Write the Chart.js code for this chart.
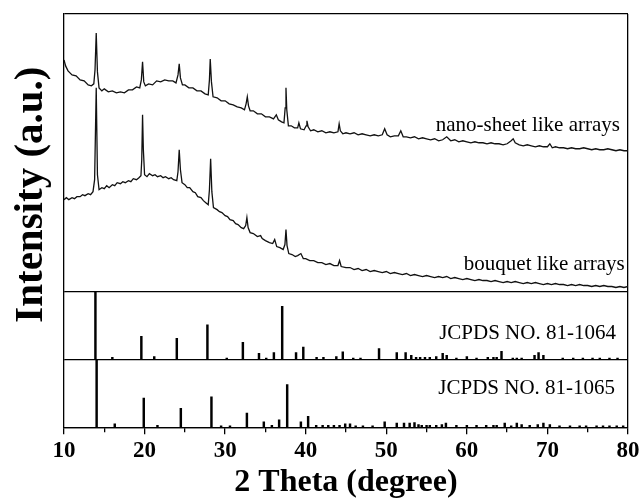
<!DOCTYPE html>
<html>
<head>
<meta charset="utf-8">
<script src="https://cdn.jsdelivr.net/npm/chart.js@4"></script>
<style>
  html, body { margin: 0; padding: 0; background: #fff; }
  #wrap { width: 642px; height: 500px; }
</style>
</head>
<body>
<div id="wrap"><canvas id="c" width="642" height="500"></canvas></div>
<script>
// ---- Data ----
// nano-sheet like arrays (intensity, a.u.)
const nanoTheta = [10.0,10.2,10.5,11.0,11.5,12.0,12.5,13.0,13.4,13.7,13.85,14.0,14.15,14.35,14.7,15.0,15.5,16.0,16.5,17.0,17.5,18.0,18.5,19.0,19.4,19.6,19.75,19.9,20.1,20.5,21.0,21.5,22.0,22.5,23.0,23.5,23.9,24.15,24.3,24.45,24.7,25.0,25.5,26.0,26.5,27.0,27.5,27.9,28.05,28.15,28.3,28.5,29.0,29.5,30.0,30.5,31.0,31.5,32.0,32.4,32.6,32.75,32.9,33.1,33.5,34.0,34.5,35.0,35.5,36.0,36.35,36.6,37.0,37.3,37.45,37.55,37.65,37.85,38.2,38.6,39.0,39.15,39.35,39.8,40.05,40.15,40.3,40.6,41.0,41.5,42.0,42.5,43.0,43.5,44.0,44.15,44.3,44.6,45.0,45.5,46.0,46.5,47.0,47.5,48.0,48.5,49.0,49.5,49.8,50.1,50.5,51.0,51.5,51.8,52.1,52.5,53.0,53.5,54.0,54.5,55.0,55.5,56.0,56.5,57.0,57.5,58.0,58.5,59.0,59.5,60.0,60.5,61.0,61.5,62.0,62.5,63.0,63.5,64.0,64.5,65.0,65.5,65.75,66.0,66.5,67.0,67.5,68.0,68.5,69.0,69.5,70.0,70.3,70.6,71.0,71.5,72.0,72.5,73.0,73.5,74.0,74.5,75.0,75.5,76.0,76.5,77.0,77.5,78.0,78.5,79.0,79.5,80.0];
const nanoInt = [232,226,221,217,216,212,211,207,206,208,222,259,220,204,201,203,200,201,199,200,199,202,202,205,204,212,230,210,206,208,207,211,210,212,211,211,209,217,228,214,207,207,204,204,201,201,198,197,212,233,210,195,194,191,191,188,187,185,184,182,188,195,186,181,181,178,178,175,175,173,177,172,170,169,184,204,182,166,166,164,164,169,163,162,166,171,165,161,162,160,161,159,160,159,160,168,161,158,159,158,159,157,158,157,156,157,156,157,163,157,155,156,156,161,155,155,154,155,153,154,153,152,153,151,152,155,151,152,150,151,150,149,150,149,149,148,149,148,148,147,148,151,153,149,147,146,147,146,145,146,145,145,148,144,145,144,144,143,144,143,143,144,143,142,143,142,142,143,142,141,142,141,141];

// bouquet like arrays (intensity, a.u.)
const bouquetTheta = [10.0,10.3,10.6,11.0,11.3,11.6,12.0,12.3,12.6,13.0,13.3,13.6,13.8,14.0,14.15,14.35,14.7,15.0,15.3,15.6,16.0,16.3,16.6,17.0,17.3,17.6,18.0,18.3,18.6,19.0,19.3,19.55,19.65,19.75,19.85,20.0,20.3,20.6,21.0,21.3,21.6,22.0,22.3,22.6,23.0,23.3,23.6,24.0,24.15,24.3,24.45,24.65,25.0,25.3,25.6,26.0,26.3,26.6,27.0,27.3,27.6,27.9,28.05,28.2,28.35,28.55,29.0,29.3,29.6,30.0,30.3,30.6,31.0,31.3,31.6,32.0,32.3,32.55,32.7,32.85,33.1,33.5,34.0,34.4,34.6,35.0,35.5,35.9,36.15,36.4,36.8,37.2,37.42,37.55,37.68,37.9,38.3,38.7,39.0,39.4,39.7,40.0,40.5,41.0,41.5,42.0,42.5,43.0,43.5,44.0,44.2,44.4,45.0,45.5,46.0,46.5,47.0,47.5,48.0,48.5,49.0,49.5,50.0,50.5,51.0,51.5,52.0,52.5,53.0,53.5,54.0,54.5,55.0,55.5,56.0,56.5,57.0,57.5,58.0,58.5,59.0,59.5,60.0,60.5,61.0,61.5,62.0,62.5,63.0,63.5,64.0,64.5,65.0,65.5,66.0,66.5,67.0,67.5,68.0,68.5,69.0,69.5,70.0,70.5,71.0,71.5,72.0,72.5,73.0,73.5,74.0,74.5,75.0,75.5,76.0,76.5,77.0,77.5,78.0,78.5,79.0,79.5,80.0];
const bouquetInt = [92,94,92,94,93,95,95,97,96,98,97,100,112,204,117,102,104,103,106,104,107,106,109,108,110,109,111,110,113,112,114,116,132,177,142,117,115,118,116,117,115,116,114,115,113,114,112,111,120,142,122,109,107,104,104,100,99,95,94,91,89,87,102,133,100,84,82,80,79,76,75,72,71,68,67,64,63,66,74,64,59,58,55,56,53,51,49,48,52,45,44,42,47,62,46,38,37,35,36,38,33,33,31,31,29,29,27,28,26,26,31,25,24,24,22,23,21,22,20,21,20,19,20,18,19,18,17,18,16,17,16,15,16,15,14,15,14,15,13,14,13,12,13,12,11,12,11,11,10,11,10,9,10,9,10,9,8,9,8,9,8,7,8,7,8,7,7,6,7,6,7,6,6,5,6,5,6,5,5,4,5,4,5];

// JCPDS NO. 81-1064 reference lines (relative intensity, %)
const jcpds1064Theta = [13.9,16.0,19.6,21.2,24.0,27.8,30.2,32.2,34.2,35.1,36.05,37.08,38.8,39.7,41.35,42.2,43.8,44.6,45.9,46.8,49.1,51.3,52.4,53.1,53.7,54.2,54.8,55.4,56.2,57.0,57.5,58.7,60.0,61.2,62.6,63.3,63.7,64.3,65.7,66.2,66.8,68.4,68.9,69.5,71.9,73.2,74.4,75.6,76.5,77.7,78.7];
const jcpds1064Int = [100,3,34,4,31,51,2,25,9,2,10,78,10,18,3,3,4,11,2,2,16,10,10,6,3,3,3,3,4,9,6,2,4,2,3,3,3,12,2,2,2,6,10,6,2,2,2,2,2,2,2];

// JCPDS NO. 81-1065 reference lines (relative intensity, %)
const jcpds1065Theta = [14.05,16.3,19.9,21.6,24.5,28.3,29.5,30.6,32.7,34.8,35.8,36.7,37.7,39.4,40.3,41.3,42.1,42.8,43.5,44.2,44.9,45.5,46.2,47.1,48.3,49.8,51.3,52.2,52.9,53.5,54.0,54.4,55.0,55.4,56.2,56.9,57.4,58.7,60.0,61.2,62.4,63.3,63.7,64.7,65.5,66.2,66.8,67.8,68.8,69.5,70.3,71.5,72.8,74.0,74.8,76.1,76.9,77.7,78.6,79.4];
const jcpds1065Int = [100,5,43,3,28,45,2,2,21,8,3,11,63,8,16,3,3,3,3,3,5,5,2,2,2,8,6,6,6,7,4,3,3,3,3,4,6,3,3,3,3,3,3,6,2,6,4,3,4,6,4,2,2,2,2,2,2,2,2,2];

// axis ticks
const xTickValues = [10,15,20,25,30,35,40,45,50,55,60,65,70,75,80];

// ---- Chart ----
const pairs = (xs, ys) => xs.map((x, i) => ({x: x, y: ys[i]}));

const annotate = {
  id: 'annotate',
  afterDraw(chart) {
    const {ctx, chartArea, scales} = chart;
    const x = scales.x;
    ctx.save();
    ctx.fillStyle = '#000';
    ctx.font = '21px "Liberation Serif"';
    ctx.textAlign = 'right';
    ctx.textBaseline = 'alphabetic';
    ctx.fillText('nano-sheet like arrays', x.getPixelForValue(79.0), scales.yMain.getPixelForValue(161));
    ctx.fillText('bouquet like arrays', x.getPixelForValue(79.6), scales.yMain.getPixelForValue(22));
    ctx.fillText('JCPDS NO. 81-1064', x.getPixelForValue(78.5), scales.yA.getPixelForValue(30));
    ctx.fillText('JCPDS NO. 81-1065', x.getPixelForValue(78.4), scales.yB.getPixelForValue(49));
    ctx.translate(31, (chartArea.top + chartArea.bottom) / 2 - 26);
    ctx.rotate(-Math.PI / 2);
    ctx.font = 'bold 41px "Liberation Serif"';
    ctx.textAlign = 'center';
    ctx.textBaseline = 'middle';
    ctx.fillText('Intensity (a.u.)', 0, 0);
    ctx.restore();
  }
};

const yPanel = (min, max, tickVals) => ({
  type: 'linear',
  position: 'left',
  stack: 'panels',
  min: min, max: max,
  ticks: { display: false },
  grid: { drawOnChartArea: true, drawTicks: false, color: '#000', lineWidth: 1.3 },
  border: { display: true, color: '#000', width: 1.3 },
  afterBuildTicks: (s) => { s.ticks = tickVals.map(v => ({value: v})); }
});

const scaleB = yPanel(0, 100, [0]); scaleB.stackWeight = 68;
const scaleA = yPanel(0, 100, [0]); scaleA.stackWeight = 68;
const scaleMain = yPanel(0, 278, [0, 278]); scaleMain.stackWeight = 278;

new Chart(document.getElementById('c'), {
  type: 'line',
  data: {
    datasets: [
      { type: 'line', label: 'nano-sheet like arrays', data: pairs(nanoTheta, nanoInt), yAxisID: 'yMain',
        borderColor: '#111', borderWidth: 1.3, pointRadius: 0, tension: 0, fill: false },
      { type: 'line', label: 'bouquet like arrays', data: pairs(bouquetTheta, bouquetInt), yAxisID: 'yMain',
        borderColor: '#111', borderWidth: 1.3, pointRadius: 0, tension: 0, fill: false },
      { type: 'bar', label: 'JCPDS NO. 81-1064', data: pairs(jcpds1064Theta, jcpds1064Int), yAxisID: 'yA',
        backgroundColor: '#000', barThickness: 1.8, grouped: false },
      { type: 'bar', label: 'JCPDS NO. 81-1065', data: pairs(jcpds1065Theta, jcpds1065Int), yAxisID: 'yB',
        backgroundColor: '#000', barThickness: 1.8, grouped: false }
    ]
  },
  options: {
    responsive: false,
    animation: false,
    devicePixelRatio: 1,
    layout: { padding: { left: 64, right: 14, top: 14, bottom: 0 } },
    plugins: { legend: { display: false }, tooltip: { enabled: false }, title: { display: false } },
    scales: {
      x: {
        type: 'linear',
        position: 'bottom',
        min: 10, max: 80,
        offset: false,
        afterBuildTicks: (s) => { s.ticks = xTickValues.map(v => ({value: v})); },
        ticks: {
          autoSkip: false, maxRotation: 0, padding: 2, color: '#000',
          font: { family: 'Liberation Serif', weight: 'bold', size: 23, lineHeight: 1.25 },
          callback: (v) => (v % 10 === 0 ? String(v) : '')
        },
        grid: {
          offset: false,
          drawOnChartArea: true,
          drawTicks: true,
          tickLength: 7,
          lineWidth: 1.3,
          tickWidth: 1.3,
          tickColor: '#000',
          color: (c) => (c.tick && c.tick.value === 80 ? '#000' : 'rgba(0,0,0,0)'),
          tickBorderDash: (c) => (c.tick && c.tick.value % 10 !== 0 ? [4, 30] : [])
        },
        border: { display: true, color: '#000', width: 1.3 },
        title: {
          display: true, text: '2 Theta (degree)', color: '#000',
          font: { family: 'Liberation Serif', weight: 'bold', size: 32, lineHeight: 1.0 },
          padding: { top: 0, bottom: 1 }
        }
      },
      yB: scaleB,
      yA: scaleA,
      yMain: scaleMain
    }
  },
  plugins: [annotate]
});
</script>
</body>
</html>
